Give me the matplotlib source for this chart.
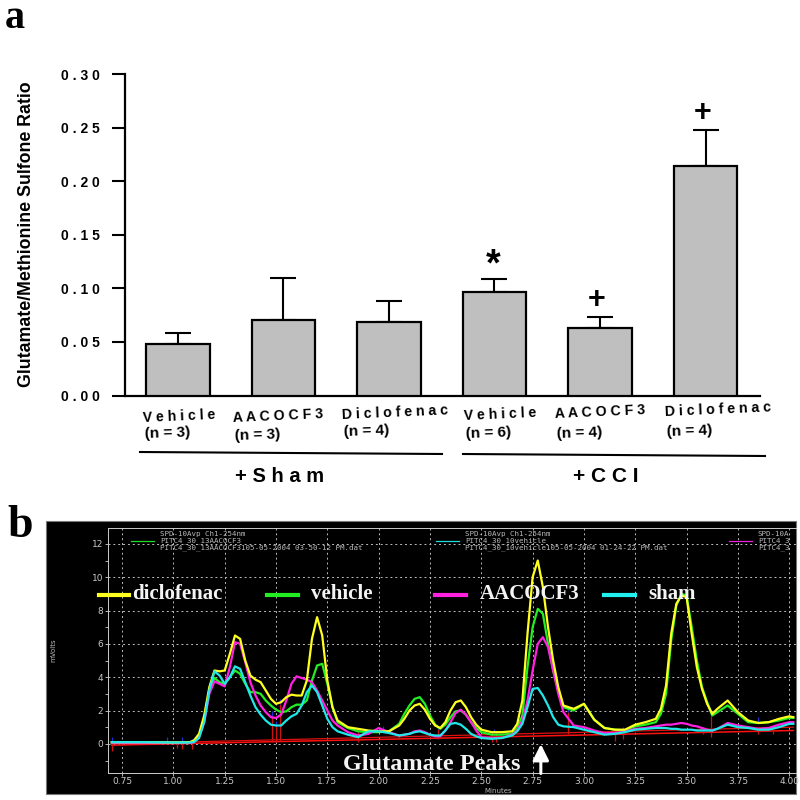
#This program redraws the two panel figure: bar chart on top, chromatogram below.
import matplotlib
matplotlib.use("Agg")
import matplotlib.pyplot as plt
from matplotlib.patches import Rectangle
from matplotlib.lines import Line2D

# panel a data
barValues = [0.048, 0.070, 0.069, 0.097, 0.063, 0.214]
barErrors = [0.010, 0.040, 0.019, 0.012, 0.010, 0.034]
barNames = ["V e h i c l e", "A A C O C F 3", "D i c l o f e n a c", "V e h i c l e", "A A C O C F 3", "D i c l o f e n a c"]
barCounts = ["(n = 3)", "(n = 3)", "(n = 4)", "(n = 6)", "(n = 4)", "(n = 4)"]
barTicks = [0.00, 0.05, 0.10, 0.15, 0.20, 0.25, 0.30]
barTickLabels = ["0 . 0 0", "0 . 0 5", "0 . 1 0", "0 . 1 5", "0 . 2 0", "0 . 2 5", "0 . 3 0"]

# panel b data
minutes = [0.70, 0.85, 1.00, 1.08,
	1.10, 1.125, 1.15, 1.175, 1.20, 1.225, 1.25, 1.275, 1.30, 1.325, 1.35, 1.375, 1.40, 1.425, 1.45, 1.475,
	1.50, 1.525, 1.55, 1.575, 1.60, 1.625, 1.65, 1.675, 1.70, 1.725, 1.75, 1.775, 1.80,
	1.85, 1.90, 1.95, 2.00, 2.05, 2.10, 2.125, 2.15, 2.175, 2.20, 2.225, 2.25, 2.275, 2.30, 2.325, 2.35, 2.375, 2.40, 2.425, 2.45, 2.475, 2.50, 2.55, 2.60, 2.65, 2.675, 2.70,
	2.725, 2.75, 2.775, 2.80, 2.825, 2.85, 2.875, 2.90,
	2.95, 3.00, 3.05, 3.10, 3.15, 3.20, 3.25, 3.30, 3.35, 3.375, 3.40,
	3.425, 3.45, 3.475, 3.50, 3.525, 3.55,
	3.575, 3.60, 3.625, 3.65,
	3.70, 3.75, 3.80, 3.85, 3.90, 3.95, 4.00, 4.02]
vehicle = [.1, .1, .08, .1,
	.15, .5, 1.5, 3.2, 3.95, 3.7, 3.6, 4.0, 4.4, 4.2, 3.6, 3.1, 3.1, 3.0, 2.6, 2.3,
	2.05, 1.9, 1.95, 2.2, 2.35, 2.35, 2.6, 3.8, 4.7, 4.8, 3.6, 2.2, 1.3,
	.95, .75, .7, .7, .75, 1.2, 1.8, 2.3, 2.7, 2.8, 2.4, 1.7, 1.15, .9, 1.15, 1.6, 1.95, 2.0, 1.75, 1.3, .95, .7, .55, .55, .6, .95, 1.7,
	4.6, 7, 8.1, 7.8, 6, 4.4, 3.2, 2.2,
	2.0, 2.4, 1.45, .95, .85, .8, 1.05, 1.15, 1.3, 1.8, 3.0,
	6.2, 8.3, 9, 8.9, 7.0, 5,
	3.4, 2.5, 1.7, 1.9,
	2.3, 1.8, 1.3, 1.25, 1.3, 1.4, 1.55, 1.55]
aacocf3 = [.05, .05, .05, .05,
	.1, .4, 1.3, 3.0, 3.75, 3.6, 3.45, 4.6, 6.1, 6.0, 4.9, 3.7, 2.9, 2.3, 1.9, 1.6,
	1.55, 1.75, 2.6, 3.6, 4.05, 3.95, 3.85, 3.7, 3.2, 2.6, 2.0, 1.4, 1.1,
	.7, .5, .6, .95, .7, .5, .55, .6, .75, .8, .7, .55, .45, .45, .8, 1.3, 1.85, 2.05, 1.75, 1.3, .8, .4, .35, .35, .55, .8, 1.4,
	2.6, 4.4, 6.0, 6.4, 5.8, 4.4, 3.0, 1.9,
	1.1, 1.0, .8, .65, .65, .75, .9, .95, 1.05, 1.1, 1.15,
	1.15, 1.2, 1.25, 1.2, 1.1, 1.05,
	.95, .85, .8, .9,
	1.25, 1.1, 1.0, .9, .95, 1.15, 1.3, 1.3]
sham = [.1, .1, .08, .08,
	.1, .35, 1.3, 3.2, 4.35, 4.1, 3.6, 4.0, 4.65, 4.5, 3.7, 2.9, 2.2, 1.75, 1.4, 1.15,
	1.1, 1.1, 1.4, 1.65, 1.8, 2.3, 3.1, 3.5, 3.1, 2.3, 1.5, 1.0, .75,
	.55, .4, .75, .75, .65, .5, .55, .6, .7, .75, .65, .55, .5, .5, .8, 1.2, 1.25, 1.15, .9, .6, .45, .35, .3, .35, .5, .75, 1.2,
	2.2, 3.3, 3.35, 2.9, 2.3, 1.6, 1.15, 1.05,
	1.0, .85, .7, .55, .6, .7, .85, .9, .95, .95, .95,
	.9, .9, .85, .85, .85, .8,
	.8, .8, .8, .9,
	1.15, 1.0, .95, .85, .85, 1.0, 1.2, 1.2]
diclofenac = [.1, .1, .08, .1,
	.2, .6, 1.7, 3.4, 4.4, 4.35, 4.4, 5.4, 6.5, 6.3, 5.0, 4.1, 3.85, 3.7, 3.2, 2.7,
	2.4, 2.5, 2.8, 2.95, 2.9, 2.9, 3.8, 6.3, 7.6, 6.5, 3.8, 2.2, 1.4,
	1.0, .9, .8, .75, .75, 1.1, 1.5, 2.0, 2.3, 2.4, 2.05, 1.5, 1.1, .95, 1.3, 2.0, 2.5, 2.6, 2.2, 1.6, 1.15, .85, .7, .7, .75, 1.2, 2.6,
	6.6, 10, 11, 9.4, 7, 5, 3.4, 2.3,
	2.1, 2.4, 1.45, .95, .85, .85, 1.15, 1.3, 1.5, 2.1, 3.5,
	6.6, 8.4, 8.9, 8.8, 6.6, 4.6,
	3.3, 2.4, 1.8, 2.1,
	2.6, 1.9, 1.4, 1.25, 1.3, 1.5, 1.65, 1.6]
baseA = [-0.08, 0.80]
baseB = [0.00, 1.00]
baseEnds = [0.70, 4.02]
redMarks = [0.70, 1.02, 1.04, 1.09, 1.48, 1.50, 1.52, 1.90, 2.10, 2.29, 2.55, 2.57, 2.92, 3.15, 3.19, 3.58, 3.62, 3.85, 3.92]
redTops = [0.1, 0.1, 0.1, 0.1, 1.7, 1.1, 2.4, 0.7, 0.5, 0.9, 0.7, 0.7, 1.9, 0.7, 0.7, 1.0, 1.7, 1.0, 0.9]
redBottoms = [-0.4, -0.25, -0.3, -0.3, 0.1, 0.1, 0.2, 0.1, 0.3, 0.3, 0.1, 0.1, 0.6, 0.2, 0.3, 0.6, 0.4, 0.6, 0.6]
blueMarks = [0.70, 0.97, 1.04, 1.09, 1.48, 1.50, 1.52, 2.02, 2.29, 2.56, 2.92, 3.19, 3.62, 3.85]
blueBottoms = [0.1, 0.1, 0.1, 0.1, 1.7, 1.1, 2.4, 0.9, 0.9, 0.7, 1.9, 0.7, 1.7, 1.3]
blueTops = [0.4, 0.4, 0.4, 0.3, 2.0, 1.4, 2.7, 1.1, 1.1, 0.9, 2.2, 1.0, 2.0, 1.6]
xTicks = [0.75, 1.00, 1.25, 1.50, 1.75, 2.00, 2.25, 2.50, 2.75, 3.00, 3.25, 3.50, 3.75, 4.00]
yTicks = [0, 2, 4, 6, 8, 10, 12]
yMinor = [-1, 1, 3, 5, 7, 9, 11]

W = 800.0

def fx(px):
	return px/W

def fy(py):
	return 1-py/W

def axesBox(left, right, top, bottom):
	return [fx(left), fy(bottom), (right-left)/W, (bottom-top)/W]

plt.rcParams['font.family'] = ['Liberation Sans', 'DejaVu Sans']
fig = plt.figure(figsize=(8, 8), dpi=100, facecolor="white")

fig.text(fx(5), fy(28), "a", fontsize=29, fontweight="bold", family="Liberation Serif", color="black")
fig.text(fx(7), fy(537), "b", fontsize=33, fontweight="bold", family="Liberation Serif", color="black")

# panel a
ax = fig.add_axes(axesBox(125.5, 760, 74, 395.5))
ax.set_xlim(-0.4962, 5.516)
ax.set_ylim(0, 0.30)
pos = list(range(len(barValues)))
ax.bar(pos, barValues, width=0.6, color="#bfbfbf", edgecolor="black", linewidth=1.6, zorder=3)
ax.errorbar(pos, barValues, yerr=[[0]*6, barErrors], fmt="none", ecolor="black", elinewidth=1.5, capsize=9.7, capthick=1.5, zorder=2)
ax.spines["top"].set_visible(False)
ax.spines["right"].set_visible(False)
ax.spines["left"].set_linewidth(1.6)
ax.spines["bottom"].set_linewidth(1.6)
ax.set_xticks([])
ax.set_yticks(barTicks)
ax.set_yticklabels(barTickLabels, fontsize=10, fontweight="bold")
ax.tick_params(axis="y", length=9.5, width=1.5, pad=9)
ax.patch.set_alpha(0)

fig.text(fx(27), fy(234), "Glutamate/Methionine Sulfone Ratio", rotation=90, ha="center", va="center", fontsize=12.8, fontweight="bold")

nameX = [143, 233, 342, 464, 555, 665]
nameY = [418, 418, 415, 416, 414, 412]
countX = [145, 235, 344, 466, 557, 667]
countY = [434, 436, 432, 434, 434, 432]
for i in range(6):
	fig.text(fx(nameX[i]), fy(nameY[i]), barNames[i], fontsize=10.2, fontweight="bold", rotation=2.5, rotation_mode="anchor", va="center")
	fig.text(fx(countX[i]), fy(countY[i]), barCounts[i], fontsize=11, fontweight="bold", rotation=2, rotation_mode="anchor", va="center")
fig.add_artist(Line2D([fx(140), fx(442)], [fy(452), fy(454)], color="black", lw=1.5))
fig.add_artist(Line2D([fx(463), fx(765)], [fy(454), fy(456)], color="black", lw=1.5))
fig.text(fx(280), fy(476), "+ S h a m", fontsize=14.5, fontweight="bold", ha="center", va="center")
fig.text(fx(606), fy(476), "+ C C I", fontsize=15, fontweight="bold", ha="center", va="center")
fig.text(fx(493), fy(265), "*", fontsize=27, fontweight="bold", ha="center", va="center")
fig.text(fx(597), fy(300), "+", fontsize=22, fontweight="bold", ha="center", va="center")
fig.text(fx(703), fy(113), "+", fontsize=22, fontweight="bold", ha="center", va="center")

# panel b
fig.add_artist(Rectangle((fx(46), fy(794)), 750/W, 273/W, transform=fig.transFigure, facecolor="black", edgecolor="#777777", lw=0.8, zorder=-1))
bx = fig.add_axes(axesBox(107.5, 796, 528, 773), facecolor="black")
bx.set_xlim(0.679, 4.033)
bx.set_ylim(-1.75, 12.95)
for name in ["top", "left", "bottom"]:
	bx.spines[name].set_color("#cccccc")
	bx.spines[name].set_linewidth(0.7)
bx.spines["right"].set_visible(False)
bx.set_xticks(xTicks)
bx.set_xticklabels(["%.2f" % t for t in xTicks], fontsize=6.5, color="#c8c8c8", family="DejaVu Sans")
bx.set_yticks(yTicks)
bx.set_yticklabels([str(t) for t in yTicks], fontsize=6.5, color="#c8c8c8", family="DejaVu Sans")
bx.set_yticks(yMinor, minor=True)
bx.tick_params(axis="both", color="#cccccc", length=2, width=0.6, pad=1)
bx.tick_params(axis="y", which="minor", color="#cccccc", length=2, width=0.6)
bx.grid(True, color="#bbbbbb", linestyle=(0, (2, 3)), linewidth=0.7)
bx.set_axisbelow(True)

bx.plot(baseEnds, baseA, color="#ff1010", lw=1.1)
bx.plot(baseEnds, baseB, color="#e01010", lw=0.9)
bx.vlines(redMarks, redBottoms, redTops, color="#d01010", lw=0.9)
bx.vlines(blueMarks, blueBottoms, blueTops, color="#2030d0", lw=0.9)
bx.plot(minutes, vehicle, color="#22ee22", lw=1.6, solid_joinstyle="round")
bx.plot(minutes, aacocf3, color="#ff20e0", lw=1.6, solid_joinstyle="round")
bx.plot(minutes, diclofenac, color="#ffff20", lw=1.6, solid_joinstyle="round")
bx.plot(minutes, sham, color="#20e8e8", lw=1.6, solid_joinstyle="round")

headers = [(160, "SPD-10Avp Ch1-254nm", "PITC4_30_13AACOCF3", "PITC4_30_13AACOCF3105-05-2004 03-50-12 PM.dat", "#22dd22", 131, 154),
	(465, "SPD-10Avp Ch1-254nm", "PITC4_30_10vehicle", "PITC4_30_10vehicle105-05-2004 01-24-22 PM.dat", "#20dddd", 436, 459),
	(758, "SPD-10A", "PITC4_3", "PITC4_3", "#ee20dd", 729, 752)]
for hx, line1, line2, line3, c, l0, l1 in headers:
	for py, s in [(534, line1), (541, line2), (548, line3)]:
		bx.text((hx-107.5)/688.5, (773-py)/245.0, s, transform=bx.transAxes, fontsize=5.4, color="#b8b8b8", family="DejaVu Sans Mono", va="center")
	bx.plot([(l0-107.5)/688.5, (l1-107.5)/688.5], [(773-540.5)/245.0]*2, transform=bx.transAxes, color=c, lw=0.9)

fig.text(fx(498), fy(791), "Minutes", fontsize=5, color="#b8b8b8", family="DejaVu Sans", ha="center", va="center")
fig.text(fx(53), fy(650), "mVolts", fontsize=5, color="#b8b8b8", family="DejaVu Sans", rotation=90, ha="center", va="center")

legendNames = ["diclofenac", "vehicle", "AACOCF3", "sham"]
legendColors = ["#ffff20", "#22ee22", "#ff20e0", "#20f0f0"]
legendLineX = [(99, 129), (267, 298), (435, 466), (604, 635)]
legendTextX = [132, 311, 480, 648]
for i in range(4):
	fig.add_artist(Line2D([fx(legendLineX[i][0]), fx(legendLineX[i][1])], [fy(594.5), fy(594.5)], color=legendColors[i], lw=3))
	fig.text(fx(legendTextX[i]), fy(594), legendNames[i], fontsize=15, fontweight="bold", family="Liberation Serif", color="#f4f4f4", va="center")

fig.text(fx(343), fy(765), "Glutamate Peaks", fontsize=17.5, fontweight="bold", family="Liberation Serif", color="#f4f4f4", va="center")
bx.annotate("", xy=(2.79, -0.02), xytext=(2.79, -1.78), annotation_clip=False,
	arrowprops=dict(arrowstyle="-|>,head_width=0.3,head_length=0.6", color="white", lw=2.2, mutation_scale=16, shrinkA=0, shrinkB=0))

plt.savefig("out.png", dpi=100)
